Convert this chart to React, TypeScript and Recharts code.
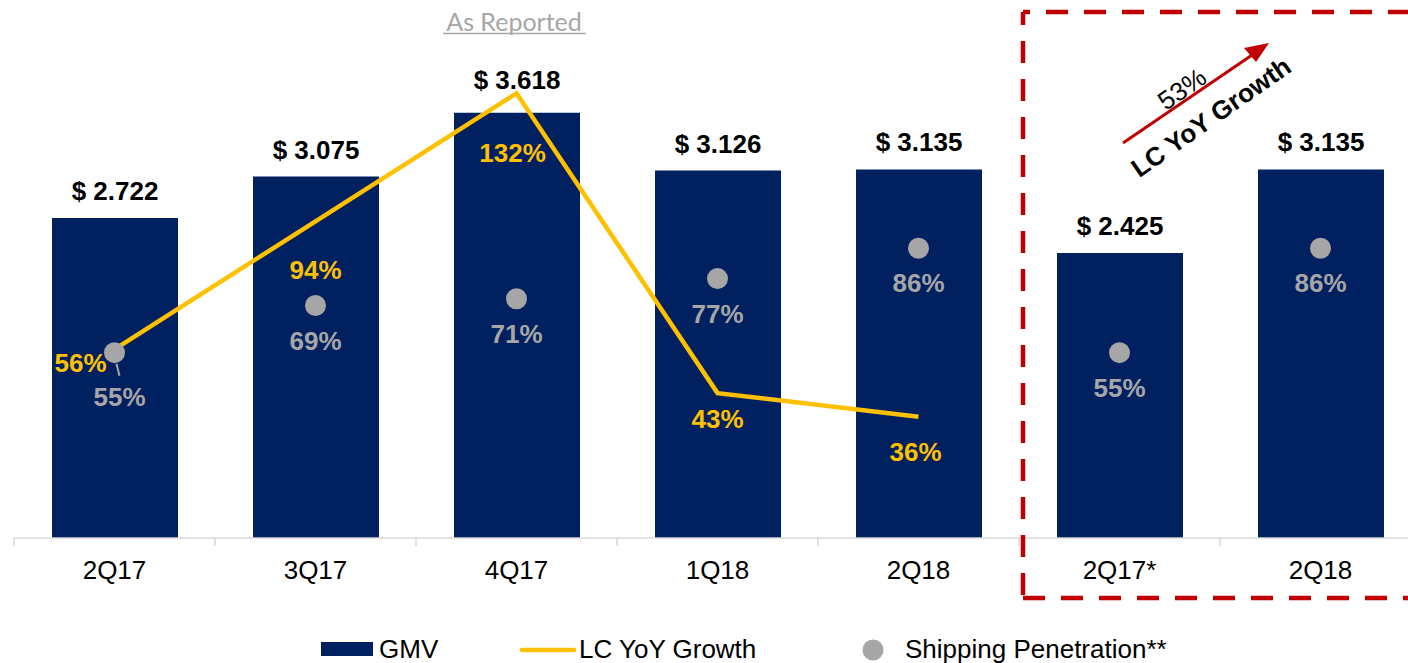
import { ComposedChart, Bar, Line, XAxis, YAxis, LabelList, Legend } from "recharts"

const quarters = ["2Q17", "3Q17", "4Q17", "1Q18", "2Q18", "2Q17*", "2Q18"]
const gmv = [2.722, 3.075, 3.618, 3.126, 3.135, 2.425, 3.135]
const lcGrowth = [56, 94, 132, 43, 36, null, null]
const shipping = [55, 69, 71, 77, 86, 55, 86]
const seriesNames = ["GMV", "LC YoY Growth", "Shipping Penetration**"]
const boxGrowth = "53%"

const data = quarters.map((q, i) => ({
  quarter: q,
  gmv: gmv[i],
  lc: lcGrowth[i],
  ship: shipping[i],
}))

const FONT = '"Liberation Sans", Arial, sans-serif'
const NAVY = "#002060"
const GOLD = "#FFC000"
const GREY = "#A6A6A6"
const RED = "#C00000"
const AXIS = "#D9D9D9"
const BAND = 201

// where each growth label sits relative to its point (text centre)
const lcLabelShift = [
  [-34, 14],
  [0, 49],
  [-4, 60],
  [0, 26],
  [-3, 35],
]

const GmvLabel = (props: any) => {
  const { x, y, width, value, index } = props
  // the 4Q17 label is lifted clear of the growth line peak
  const lift = index === 2 ? 33 : 27
  return (
    <text
      x={Number(x) + Number(width) / 2}
      y={Number(y) - lift}
      textAnchor="middle"
      dominantBaseline="central"
      fontFamily={FONT}
      fontSize={26}
      fontWeight="bold"
      fill="#000"
    >
      {`$ ${Number(value).toFixed(3)}`}
    </text>
  )
}

const LcLabel = (props: any) => {
  const { x, y, value, index } = props
  if (value == null) return null
  const [dx, dy] = lcLabelShift[index] || [0, 30]
  return (
    <text
      x={Number(x) + dx}
      y={Number(y) + dy}
      textAnchor="middle"
      dominantBaseline="central"
      fontFamily={FONT}
      fontSize={26}
      fontWeight="bold"
      fill={GOLD}
    >
      {`${value}%`}
    </text>
  )
}

const ShipLabel = (props: any) => {
  const { x, y, value, index } = props
  const cx = Number(x)
  const cy = Number(y)
  const first = index === 0
  return (
    <g>
      {first && (
        <line x1={cx + 2} y1={cy + 11} x2={cx + 5} y2={cy + 23} stroke={GREY} strokeWidth={2} />
      )}
      <text
        x={cx + (first ? 5 : 0)}
        y={cy + (first ? 44 : 35)}
        textAnchor="middle"
        dominantBaseline="central"
        fontFamily={FONT}
        fontSize={26}
        fontWeight="bold"
        fill={GREY}
      >
        {`${value}%`}
      </text>
    </g>
  )
}

const QuarterTick = (props: any) => {
  const { x, y, payload } = props
  const left = Number(x) - BAND / 2
  return (
    <g>
      <line x1={left} x2={left} y1={y} y2={Number(y) + 8} stroke={AXIS} strokeWidth={1.5} />
      <text
        x={x}
        y={Number(y) + 32}
        textAnchor="middle"
        dominantBaseline="central"
        fontFamily={FONT}
        fontSize={26}
        fill="#000"
      >
        {payload.value}
      </text>
    </g>
  )
}

const renderLegend = () => {
  const txt = { fontFamily: FONT, fontSize: 26, fill: "#000" }
  return (
    <svg width={1408} height={30} style={{ display: "block" }}>
      <rect x={321} y={9} width={52} height={14} fill={NAVY} />
      <text x={379} y={16} dominantBaseline="central" {...txt}>
        {seriesNames[0]}
      </text>
      <line x1={522} x2={574} y1={17} y2={17} stroke={GOLD} strokeWidth={4.5} strokeLinecap="round" />
      <text x={579} y={16} dominantBaseline="central" {...txt}>
        {seriesNames[1]}
      </text>
      <circle cx={873} cy={17} r={10.5} fill={GREY} />
      <text x={905} y={16} dominantBaseline="central" {...txt}>
        {seriesNames[2]}
      </text>
    </svg>
  )
}

function Annotations() {
  const dash = { stroke: RED, strokeWidth: 4.5, fill: "none", strokeDasharray: "22 16" }
  return (
    <svg
      width={1408}
      height={663}
      style={{ position: "absolute", left: 0, top: 0, pointerEvents: "none" }}
    >
      {/* As Reported heading */}
      <text
        x={514}
        y={31}
        textAnchor="middle"
        fontFamily="Lato, 'Open Sans', sans-serif"
        fontSize={25}
        fill={GREY}
      >
        As Reported
      </text>
      <line x1={443} x2={586} y1={33.5} y2={33.5} stroke={GREY} strokeWidth={1.5} />

      {/* dashed box */}
      <path d="M1023 12 L1430 12" {...dash} strokeDashoffset={15} />
      <path d="M1023 12 L1023 598" {...dash} strokeDashoffset={9} />
      <path d="M1023 598 L1430 598" {...dash} strokeDashoffset={0} />

      {/* growth arrow */}
      <line x1={1123} y1={143} x2={1255} y2={53} stroke={RED} strokeWidth={3} />
      <polygon points="1269,43 1244,48 1256,62" fill={RED} />
      <text
        x={1182}
        y={89}
        textAnchor="middle"
        dominantBaseline="central"
        fontFamily={FONT}
        fontSize={26}
        fill="#000"
        transform="rotate(-35 1182 89)"
      >
        {boxGrowth}
      </text>
      <text
        x={1211}
        y={117}
        textAnchor="middle"
        dominantBaseline="central"
        fontFamily={FONT}
        fontSize={26}
        fontWeight="bold"
        fill="#000"
        transform="rotate(-35 1211 117)"
      >
        {seriesNames[1]}
      </text>
    </svg>
  )
}

export default function App() {
  return (
    <div
      style={{
        position: "absolute",
        left: 0,
        top: 0,
        width: 1408,
        height: 663,
        overflow: "hidden",
        background: "#fff",
      }}
    >
      <ComposedChart
        width={1421}
        height={663}
        data={data}
        margin={{ top: 9, right: 0, bottom: 0, left: 14 }}
      >
        <XAxis
          dataKey="quarter"
          height={95}
          interval={0}
          tickLine={false}
          tickSize={0}
          tickMargin={0}
          axisLine={{ stroke: AXIS, strokeWidth: 1.5 }}
          tick={<QuarterTick />}
        />
        <YAxis yAxisId="gmv" domain={[0, 4.5]} hide />
        <YAxis yAxisId="pct" orientation="right" domain={[0, 157]} hide />
        <Legend
          verticalAlign="bottom"
          height={30}
          content={renderLegend}
          wrapperStyle={{ left: 0, bottom: 0, width: 1408, height: 30 }}
        />
        <Bar
          yAxisId="gmv"
          dataKey="gmv"
          name={seriesNames[0]}
          fill={NAVY}
          barSize={126}
          isAnimationActive={false}
        >
          <LabelList dataKey="gmv" content={<GmvLabel />} />
        </Bar>
        <Line
          yAxisId="pct"
          dataKey="lc"
          name={seriesNames[1]}
          type="linear"
          stroke={GOLD}
          strokeWidth={4.5}
          dot={false}
          activeDot={false}
          isAnimationActive={false}
        >
          <LabelList dataKey="lc" content={<LcLabel />} />
        </Line>
        <Line
          yAxisId="pct"
          dataKey="ship"
          name={seriesNames[2]}
          stroke="none"
          dot={{ r: 10.5, fill: GREY, stroke: "none" }}
          activeDot={false}
          isAnimationActive={false}
        >
          <LabelList dataKey="ship" content={<ShipLabel />} />
        </Line>
      </ComposedChart>
      <Annotations />
    </div>
  )
}
